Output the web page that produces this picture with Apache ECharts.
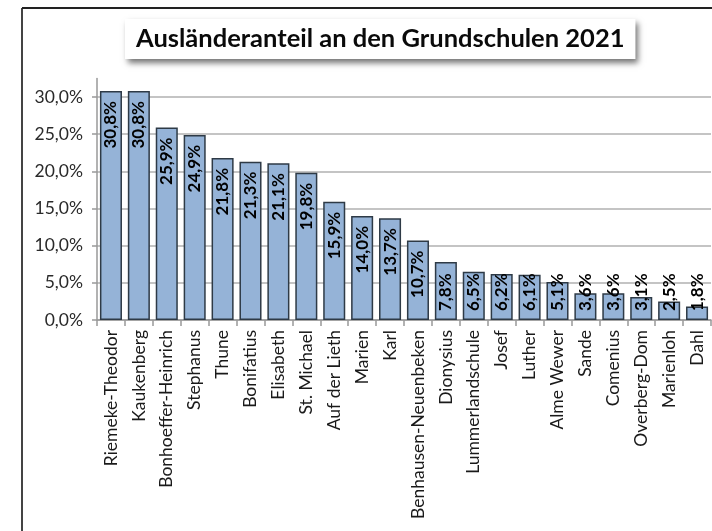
<!DOCTYPE html>
<html>
<head>
<meta charset="utf-8">
<script src="https://cdn.jsdelivr.net/npm/echarts@6/dist/echarts.min.js"></script>
<style>
html,body{margin:0;padding:0;background:#fff;}
#chart{width:712px;height:531px;}
</style>
</head>
<body>
<div id="chart"></div>
<script>
const titleText = 'Ausländeranteil an den Grundschulen 2021';
const categories = ['Riemeke-Theodor','Kaukenberg','Bonhoeffer-Heinrich','Stephanus','Thune','Bonifatius','Elisabeth','St. Michael','Auf der Lieth','Marien','Karl','Benhausen-Neuenbeken','Dionysius','Lummerlandschule','Josef','Luther','Alme Wewer','Sande','Comenius','Overberg-Dom','Marienloh','Dahl'];
const values = [30.8,30.8,25.9,24.9,21.8,21.3,21.1,19.8,15.9,14.0,13.7,10.7,7.8,6.5,6.2,6.1,5.1,3.6,3.6,3.1,2.5,1.8];
const yTicks = [0,5,10,15,20,25,30];

const FONT = 'Lato';
const fmt = v => v.toFixed(1).replace('.', ',') + '%';

const chart = echarts.init(document.getElementById('chart'), null, {renderer:'canvas'});
const data = values.map(v => ({
  value: v,
  label: v >= 9
    ? {position:'insideTop', align:'right', distance:10}
    : {position:'insideBottom', align:'left', distance:9}
}));

chart.setOption({
  animation:false,
  backgroundColor:'#fff',
  title:{
    text:titleText,
    left:125, top:19,
    padding:[7,11,7,11],
    backgroundColor:'#fff',
    shadowColor:'rgba(0,0,0,0.55)',
    shadowBlur:6, shadowOffsetX:3, shadowOffsetY:4,
    textStyle:{fontFamily:FONT, fontWeight:'bold', fontSize:25.5, color:'#0a0a0a'}
  },
  graphic:[
    {type:'line', shape:{x1:22,y1:8,x2:22,y2:531}, style:{stroke:'#444', lineWidth:2}},
    {type:'line', shape:{x1:22,y1:8,x2:712,y2:8}, style:{stroke:'#222', lineWidth:2}}
  ],
  grid:{left:97, right:1, top:78.4, bottom:211, containLabel:false},
  xAxis:{
    type:'category',
    data:categories,
    axisLine:{lineStyle:{color:'#999', width:1.5}},
    axisTick:{show:true, alignWithLabel:false, length:6, lineStyle:{color:'#999', width:1.5}},
    axisLabel:{rotate:90, interval:0, margin:10, fontFamily:FONT, fontSize:17.5, color:'#1a1a1a'}
  },
  yAxis:{
    type:'value',
    min:0, max:32.5, interval:5,
    axisLine:{show:true, lineStyle:{color:'#999', width:1.5}},
    axisTick:{show:true, length:5, lineStyle:{color:'#999', width:1.5}},
    splitLine:{show:true, showMaxLine:false, lineStyle:{color:'#b0b0b0', width:1.5}},
    axisLabel:{showMaxLabel:false, margin:14, fontFamily:FONT, fontSize:17.5, color:'#2a2a2a',
      formatter: v => yTicks.includes(v) ? fmt(v) : ''}
  },
  series:[{
    type:'bar',
    data:data,
    barCategoryGap:'21%',
    itemStyle:{color:'#95b3d7', borderColor:'#2e3a46', borderWidth:1.5},
    label:{show:true, rotate:90, verticalAlign:'middle', fontFamily:FONT, fontWeight:'bold', fontSize:17, color:'#000',
      formatter: p => fmt(p.value)}
  }]
});
</script>
</body>
</html>
